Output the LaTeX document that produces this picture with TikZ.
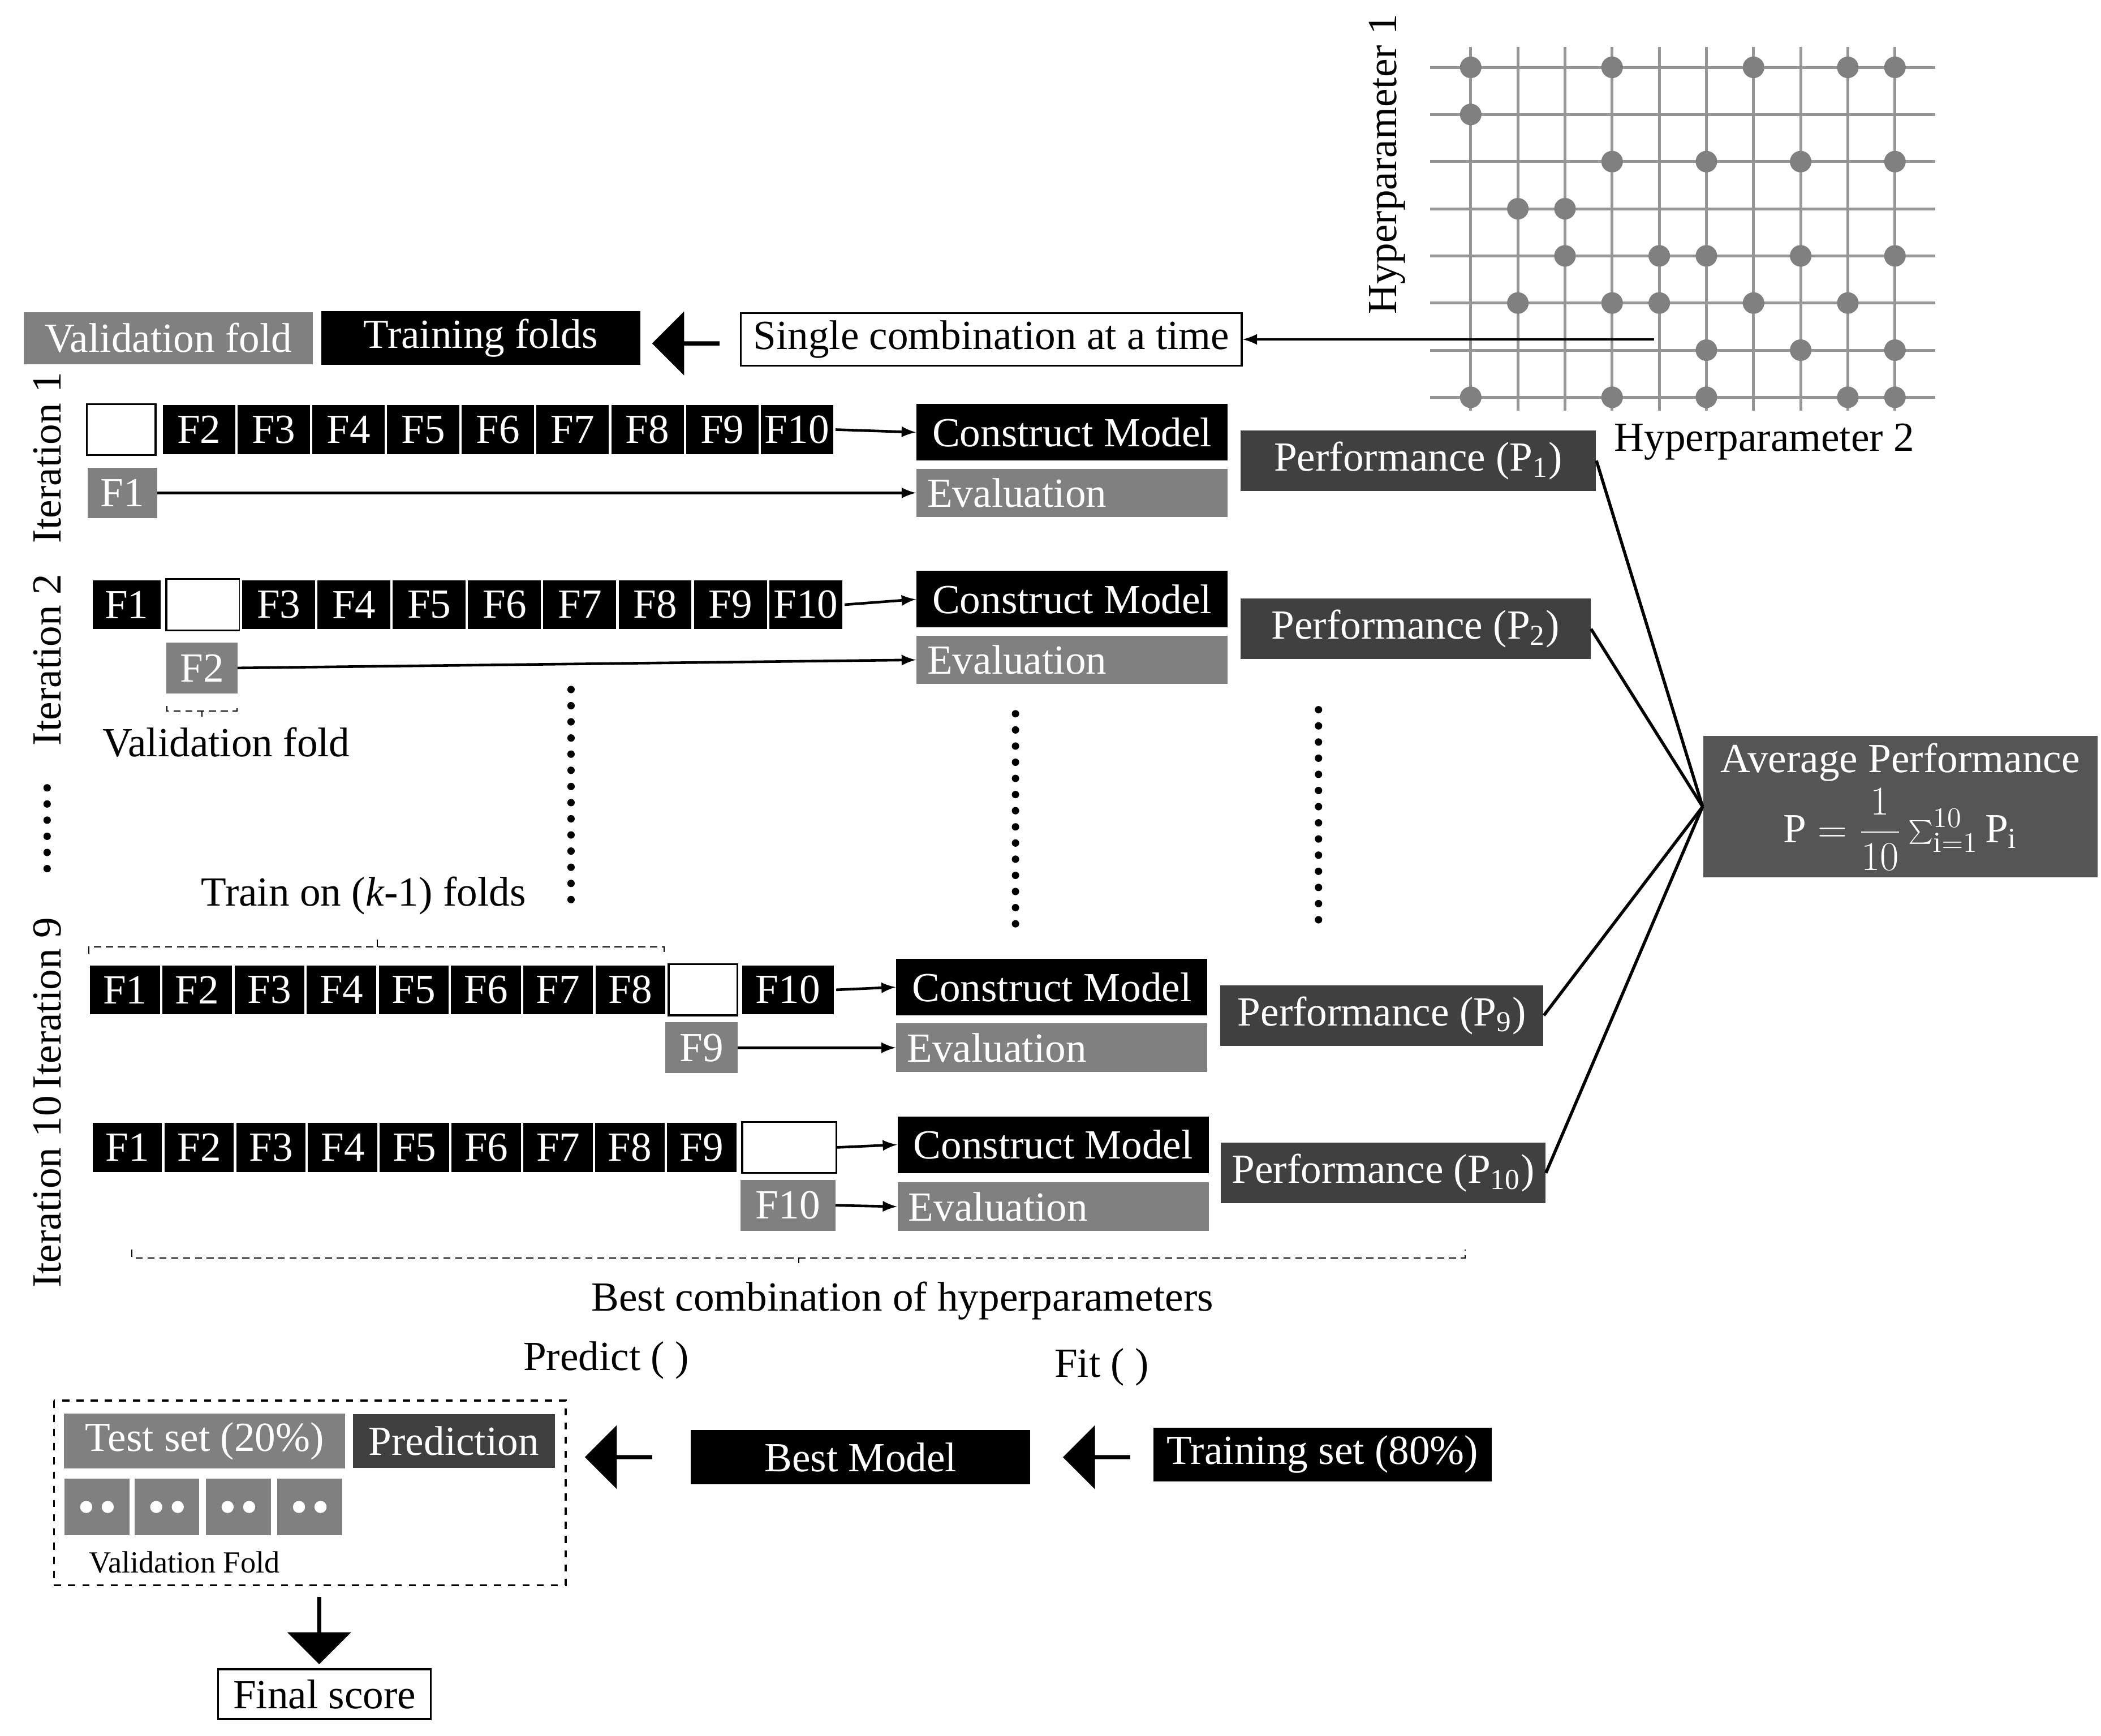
\documentclass[tikz,border=0pt]{standalone}
\usepackage{fontspec}
\setmainfont{Liberation Serif}
\usetikzlibrary{shapes.arrows}
\definecolor{midgray}{RGB}{128,128,128}
\definecolor{darkgray}{RGB}{64,64,64}
\definecolor{avggray}{RGB}{85,85,85}
\definecolor{gridgray}{RGB}{150,150,150}
\tikzset{
  txt/.style={font=\fontsize{17.5}{20}\selectfont},
  fold/.style={txt, draw=white, line width=1pt, fill=black, text=white, minimum height=0.76cm, inner sep=0pt},
  valbox/.style={txt, draw=midgray, fill=midgray, text=white, minimum height=0.74cm, inner sep=0pt},
  emptybox/.style={draw=black, line width=0.8pt, fill=white, minimum height=0.76cm, inner sep=0pt},
  construct/.style={txt, fill=black, text=white, minimum width=4.62cm, minimum height=0.84cm, inner sep=0pt},
  evalbox/.style={txt, fill=midgray, text=white, minimum width=4.62cm, minimum height=0.72cm, inner sep=0pt, text width=4.3cm, align=left},
  perf/.style={txt, fill=darkgray, text=white, minimum height=0.9cm, inner sep=0pt},
  plain/.style={txt, draw=black, line width=0.8pt, fill=white, inner sep=0pt},
  bigarrow/.style={single arrow, fill=black, minimum height=1cm, minimum width=0.95cm, single arrow head extend=0.1cm, inner sep=0pt},
  link/.style={-latex, line width=1.1pt},
  dotcol/.style={line width=0.11cm, line cap=round, dash pattern=on 0pt off 0.24cm},
  brace/.style={densely dashed, line width=0.5pt},
}
\begin{document}
\begin{tikzpicture}[x=0.02cm, y=-0.02cm]
\useasboundingbox (0,0) rectangle (1560,1289);

% hyperparameter grid
\foreach \c in {0,...,9}
  \draw[gridgray, line width=1.2pt] ({1092+35*\c},35) -- ({1092+35*\c},305);
\foreach \r in {0,...,7}
  \draw[gridgray, line width=1.2pt] (1062,{50+35*\r}) -- (1437,{50+35*\r});
\foreach \r/\cols in {0/{0,3,6,8,9}, 1/{0}, 2/{3,5,7,9}, 3/{1,2}, 4/{2,4,5,7,9}, 5/{1,3,4,6,8}, 6/{5,7,9}, 7/{0,3,5,8,9}}
  \foreach \c in \cols
    \fill[midgray] ({1092+35*\c},{50+35*\r}) circle (0.16cm);
\node[txt, rotate=90] (hp1) at (1030,122) {Hyperparameter 1};
\node[txt] (hp2) at (1310,328) {Hyperparameter 2};
\coordinate (pick) at (1228,252);

% legend
\node[valbox, minimum width=4.28cm, minimum height=0.76cm] (leg1) at (125,251) {Validation fold};
\node[fold, draw=black, minimum width=4.7cm] (leg2) at (357,251) {Training folds};
\node[bigarrow, shape border rotate=180] (arr0) at (510,255) {};
\node[plain, minimum width=7.44cm, minimum height=0.78cm] (single) at (736,252) {Single combination at a time};
\draw[link] (pick) -- (single.east);

% iteration 1
\node[txt, rotate=90] (it1) at (35,340) {Iteration 1};
\node[emptybox, minimum width=1.02cm] (a1) at (90,319) {};
\foreach \i [count=\k] in {2,...,10}
  \node[fold, minimum width=1.11cm] (a\i) at ({120+55.5*(\k-0.5)},319) {F\i};
\node[valbox, minimum width=1.02cm] (va) at (91,366) {F1};
\node[construct] (ca) at (796,321) {Construct Model};
\node[evalbox] (ea) at (796,366) {Evaluation};
\node[perf, minimum width=5.28cm] (p1) at (1053,342) {Performance (P\textsubscript{1})};
\draw[link] (a10.east) -- (ca.west);
\draw[link] (va.east) -- (ea.west);

% iteration 2
\node[txt, rotate=90] (it2) at (35,490) {Iteration 2};
\node[fold, minimum width=1.04cm] (b1) at (94,449) {F1};
\node[emptybox, minimum width=1.1cm] (b2) at (151,449) {};
\foreach \i [count=\k] in {3,...,10}
  \node[fold, minimum width=1.12cm] (b\i) at ({179+55.9*(\k-0.5)},449) {F\i};
\node[valbox, minimum width=1.04cm] (vb) at (150,496) {F2};
\node[construct] (cb) at (796,445) {Construct Model};
\node[evalbox] (eb) at (796,490) {Evaluation};
\node[perf, minimum width=5.2cm] (p2) at (1051,467) {Performance (P\textsubscript{2})};
\draw[link] (b10.east) -- (cb.west);
\draw[link] (vb.east) -- (eb.west);
\draw[brace] (124,524) -- (124,528) -- (176,528) -- (176,524) (150,528) -- (150,532);
\node[txt] (vfold) at (168,551) {Validation fold};

% skipped iterations
\draw[dotcol] (424,512) -- (424,670);
\draw[dotcol] (754,530) -- (754,690);
\draw[dotcol] (979,527) -- (979,686);
\draw[dotcol] (35,585) -- (35,655);
\node[txt] (train) at (270,665) {Train on (\textit{k}-1) folds};
\draw[brace] (66,708) -- (66,703) -- (493,703) -- (493,708) (280,703) -- (280,697);

% iteration 9
\node[txt, rotate=90] (it9) at (35,745) {Iteration 9};
\foreach \i in {1,...,8}
  \node[fold, minimum width=1.07cm] (c\i) at ({66+53.6*(\i-0.5)},735) {F\i};
\node[emptybox, minimum width=1.02cm] (c9) at (522,735) {};
\node[fold, minimum width=1.4cm] (c10) at (585,735) {F10};
\node[valbox, minimum width=1.06cm] (vc) at (521,778) {F9};
\node[construct] (cc) at (781,733) {Construct Model};
\node[evalbox] (ec) at (781,778) {Evaluation};
\node[perf, minimum width=4.8cm] (p9) at (1026,754) {Performance (P\textsubscript{9})};
\draw[link] (c10.east) -- (cc.west);
\draw[link] (vc.east) -- (ec.west);

% iteration 10
\node[txt, rotate=90] (it10) at (35,885) {Iteration 10};
\foreach \i in {1,...,9}
  \node[fold, minimum width=1.07cm] (d\i) at ({68+53.3*(\i-0.5)},852) {F\i};
\node[emptybox, minimum width=1.4cm] (d10) at (586,852) {};
\node[valbox, minimum width=1.4cm] (vd) at (585,895) {F10};
\node[construct] (cd) at (782,850) {Construct Model};
\node[evalbox] (ed) at (782,896) {Evaluation};
\node[perf, minimum width=4.82cm] (p10) at (1027,871) {Performance (P\textsubscript{10})};
\draw[link] (d10.east) -- (cd.west);
\draw[link] (vd.east) -- (ed.west);

% average
\node[txt, fill=avggray, text=white, minimum width=5.86cm, minimum height=2.1cm, inner sep=0pt, align=center] (avg) at (1411,599)
  {Average Performance\\[2pt] $\displaystyle\mathrm{P}=\frac{1}{10}\textstyle\sum_{\mathrm{i}=1}^{10}\mathrm{P_i}$};
\foreach \p in {p1,p2,p9,p10}
  \draw[line width=1.3pt] (\p.east) -- (avg.west);

% best combination
\draw[brace] (98,928) -- (98,934) -- (1088,934) -- (1088,928) (593,934) -- (593,938);
\node[txt] (best) at (670,966) {Best combination of hyperparameters};
\node[txt] (predict) at (450,1010) {Predict ( )};
\node[txt] (fit) at (818,1015) {Fit ( )};

% final evaluation
\draw[dashed, line width=0.8pt] (40,1040) rectangle (420,1177);
\node[valbox, minimum width=4.16cm, minimum height=0.8cm] (test) at (152,1070) {Test set (20\%)};
\node[txt, fill=darkgray, text=white, minimum width=3cm, minimum height=0.8cm, inner sep=0pt] (pred) at (337,1070) {Prediction};
\foreach \x [count=\k] in {72,124,177,230} {
  \node[fill=midgray, minimum width=0.96cm, minimum height=0.84cm, inner sep=0pt] (g\k) at (\x,1119) {};
  \fill[white] (\x-8,1119) circle (0.09cm) (\x+8,1119) circle (0.09cm);
}
\node[font=\fontsize{13}{15}\selectfont] (vf) at (137,1160) {Validation Fold};
\node[bigarrow, shape border rotate=180] (arr1) at (460,1082) {};
\node[txt, fill=black, text=white, minimum width=5.04cm, minimum height=0.8cm, inner sep=0pt] (bestm) at (639,1082) {Best Model};
\node[bigarrow, shape border rotate=180] (arr2) at (815,1082) {};
\node[txt, fill=black, text=white, minimum width=5.02cm, minimum height=0.8cm, inner sep=0pt] (trainset) at (982,1080) {Training set (80\%)};
\node[bigarrow, shape border rotate=270] (arr3) at (237,1210) {};
\node[plain, minimum width=3.16cm, minimum height=0.74cm] (final) at (241,1258) {Final score};
\end{tikzpicture}
\end{document}
